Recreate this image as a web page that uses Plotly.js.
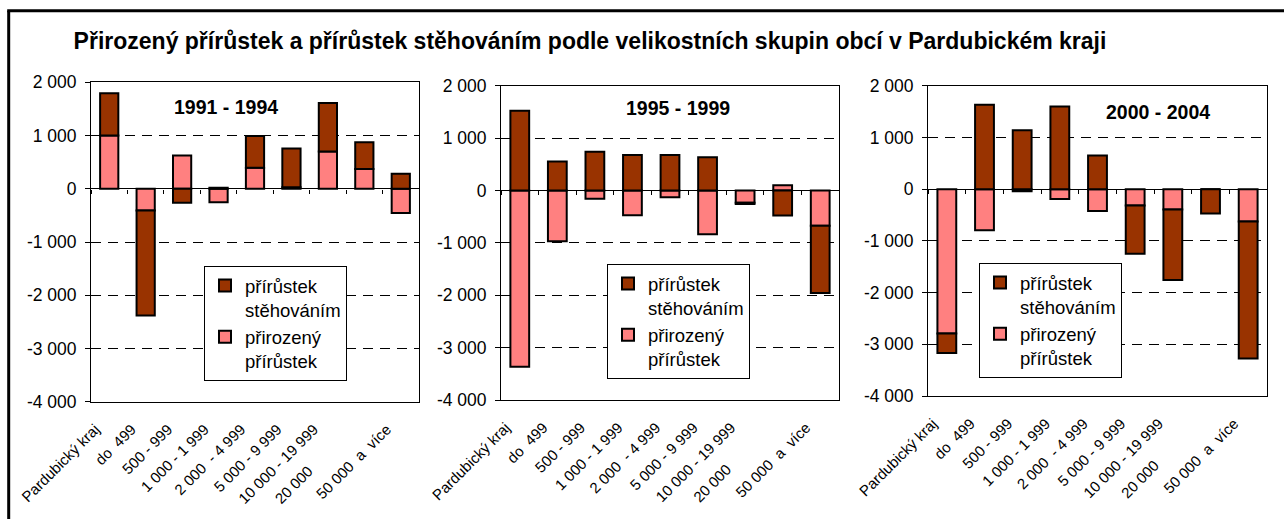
<!DOCTYPE html>
<html><head><meta charset="utf-8">
<script src="https://cdn.plot.ly/plotly-3.0.1.min.js"></script>
<style>html,body{margin:0;padding:0;background:#fff;overflow:hidden;}</style>
</head><body><div id="chart" style="width:1284px;height:519px;"></div>
<script>
// ---- data ----
const categories = ["Pardubický kraj","do 499","500 - 999","1 000 - 1 999","2 000 - 4 999","5 000 - 9 999","10 000 - 19 999","20 000 - 49 999","50 000 a více"];
const tickLabels = ["Pardubický kraj","do\u00A0\u00A0499","500 - 999","1 000 - 1 999","2 000 \u00A0- 4 999","5 000 - 9 999","10 000 - 19 999","20 000<span style='color:rgba(0,0,0,0)'> - 49 999</span>","50 000\u00A0\u00A0a\u00A0\u00A0více"];
const periods = ["1991 - 1994","1995 - 1999","2000 - 2004"];
const seriesNames = ["přirozený<br>přírůstek","přírůstek<br>stěhováním"];
// přirozený přírůstek (natural increase)
const natural9194 = [1000, -410, 625, -255, 395, 30, 700, 370, -455];
const natural9599 = [-3365, -970, -160, -475, -130, -835, -235, 100, -675];
const natural0004 = [-2790, -795, -40, -190, -425, -315, -395, 0, -625];
// přírůstek stěhováním (migration increase)
const migration9194 = [795, -1970, -265, 20, 595, 725, 910, 505, 280];
const migration9599 = [1520, 555, 740, 675, 675, 635, -25, -478, -1280];
const migration0004 = [-380, 1630, 1140, 1600, 650, -935, -1360, -470, -2650];
const yTickVals = [-4000,-3000,-2000,-1000,0,1000,2000];
const yTickText = ["-4 000","-3 000","-2 000","-1 000","0","1 000","2 000"];
const mainTitle = "Přirozený přírůstek a přírůstek stěhováním podle velikostních skupin obcí v Pardubickém kraji";

// ---- styling / layout ----
const W = 1284, H = 519;
const FONT = "Liberation Sans, Arial, sans-serif";
const colNat = "#FF8080", colMig = "#993300";
const panels = [
  {nat: natural9194, mig: migration9194, px:[91,419], py:[82.3,401.7], leg:[204,266], lab:[226,107]},
  {nat: natural9599, mig: migration9599, px:[501,839], py:[85.7,400], leg:[607,264], lab:[678,108]},
  {nat: natural0004, mig: migration0004, px:[928,1267], py:[85.7,396], leg:[979,263], lab:[1158,112]}
];
const yMin = -4000, yMax = 2000;
const traces = [];
const layout = {
  width: W, height: H, margin:{l:0,r:0,t:0,b:0},
  paper_bgcolor:"#fff", plot_bgcolor:"#fff",
  barmode:"relative", bargap:0.5,
  font:{family:FONT, color:"#000", size:16},
  separators:", ",
  title:{text: mainTitle, x:590/W, xanchor:"center", y:1-41/H, yanchor:"middle",
         font:{family:FONT, size:23, weight:"bold", color:"#000"}},
  annotations:[], shapes:[],
  showlegend:true
};
panels.forEach((p,i)=>{
  const n = i+1;
  const xa = n===1?"x":"x"+n, ya = n===1?"y":"y"+n;
  const xk = n===1?"xaxis":"xaxis"+n, yk = n===1?"yaxis":"yaxis"+n;
  const xt = "x"+(n+3), xtk = "xaxis"+(n+3);
  const legk = n===1?"legend":"legend"+n;
  const dx = [p.px[0]/W, p.px[1]/W];
  const dy = [1-p.py[1]/H, 1-p.py[0]/H];
  traces.push({type:"bar", x:categories, y:p.nat, name:seriesNames[0], xaxis:xa, yaxis:ya,
    marker:{color:colNat, line:{color:"#000", width:2}}, legend:legk, hoverinfo:"y"});
  traces.push({type:"bar", x:categories, y:p.mig, name:seriesNames[1], xaxis:xa, yaxis:ya,
    marker:{color:colMig, line:{color:"#000", width:2}}, legend:legk, hoverinfo:"y"});
  traces.push({type:"scatter", mode:"none", x:categories, y:p.nat, xaxis:xt, yaxis:ya,
    showlegend:false, hoverinfo:"skip"});
  layout[xk] = {domain:dx, anchor:ya, type:"category", categoryarray:categories,
    tickvals:categories, ticktext:tickLabels, tickangle:-45, ticks:"",
    ticklabelstandoff:12, ticklabelshift:-14,
    tickfont:{size:15, family:FONT}, showline:true, mirror:true, linecolor:"#000", linewidth:1,
    showgrid:false, zeroline:false, fixedrange:true};
  layout[yk] = {domain:dy, anchor:xa, range:[yMin,yMax], tickvals:yTickVals, ticktext:yTickText,
    ticks:"outside", ticklen:5, tickcolor:"#000", tickwidth:1, ticklabelstandoff:5,
    tickfont:{size:17.5, family:FONT},
    showline:true, mirror:true, linecolor:"#000", linewidth:1,
    showgrid:true, gridcolor:"#000", gridwidth:1, griddash:"10px,7px",
    zeroline:true, zerolinecolor:"#000", zerolinewidth:1, fixedrange:true};
  const zeroPos = dy[0] + (0-yMin)/(yMax-yMin)*(dy[1]-dy[0]);
  layout[xtk] = {overlaying:xa, matches:xa, anchor:"free", position:zeroPos, type:"category",
    ticks:"outside", ticklen:4, tickcolor:"#000", tickson:"boundaries", showticklabels:false,
    showline:false, showgrid:false, zeroline:false, fixedrange:true};
  layout[legk] = {x:p.leg[0]/W, y:1-p.leg[1]/H, xanchor:"left", yanchor:"top",
    bgcolor:"#fff", bordercolor:"#000", borderwidth:1, traceorder:"reversed", valign:"top",
    font:{size:18.5, family:FONT}, itemwidth:30};
  layout.annotations.push({text:periods[i], xref:"paper", yref:"paper",
    x:p.lab[0]/W, y:1-p.lab[1]/H, xanchor:"center", yanchor:"middle", showarrow:false,
    font:{family:FONT, size:19.5, weight:"bold", color:"#000"}});
});
// outer frame: only the left and top edges fall inside the picture
layout.shapes.push({type:"line", xref:"paper", yref:"paper", x0:8.7/W, x1:8.7/W, y0:-0.1, y1:1-10.7/H,
  line:{color:"#000", width:3}, layer:"above"});
layout.shapes.push({type:"line", xref:"paper", yref:"paper", x0:7.2/W, x1:1.1, y0:1-10.7/H, y1:1-10.7/H,
  line:{color:"#000", width:3}, layer:"above"});
Plotly.newPlot("chart", traces, layout, {staticPlot:true, displayModeBar:false});
</script></body></html>
